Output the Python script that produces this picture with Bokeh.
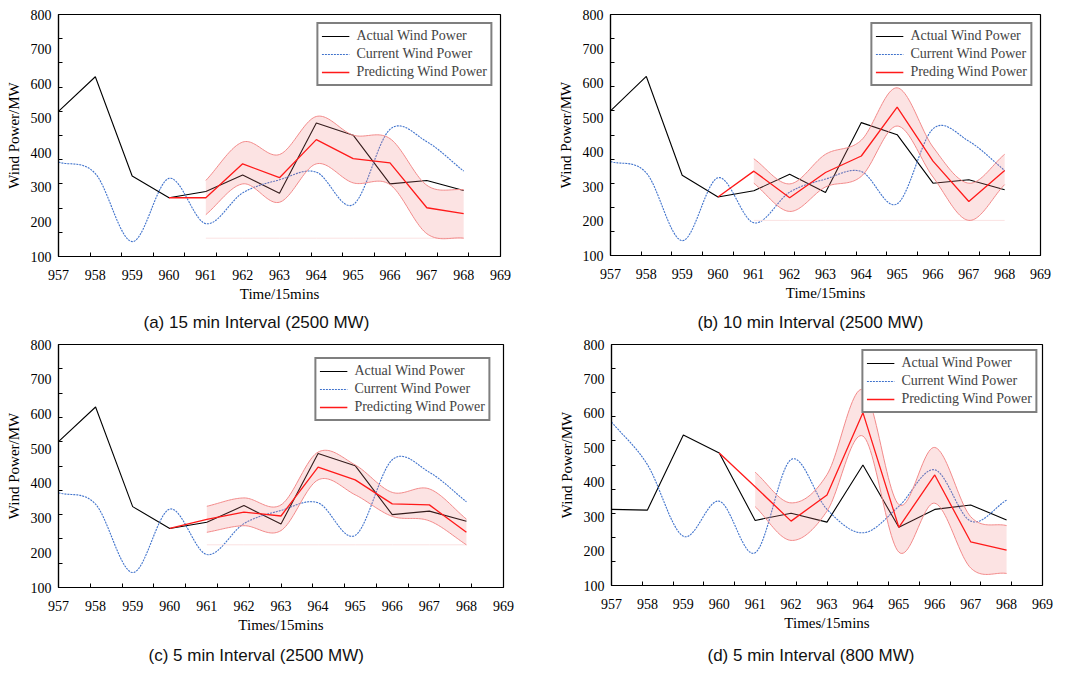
import numpy as np
from bokeh.plotting import figure
from bokeh.layouts import column, row
from bokeh.models import Range1d, FixedTicker, Legend, LegendItem, Title
from bokeh.embed import file_html
from bokeh.resources import INLINE

# ---------------- data ----------------
time = [957, 958, 959, 960, 961, 962, 963, 964, 965, 966, 967, 968]
pred_time = [960, 961, 962, 963, 964, 965, 966, 967, 968]
band_time = [961, 962, 963, 964, 965, 966, 967, 968]

actual_2500 = [520, 620, 333, 270, 288, 336, 283, 486, 451, 310, 320, 291]
current_2500 = [373, 340, 143, 326, 195, 284, 322, 344, 250, 468, 432, 347]

pred_a = [270, 270, 368, 328, 438, 383, 371, 241, 224]
upper_a = [320, 431, 395, 505, 451, 441, 306, 293]
lower_a = [221, 310, 257, 368, 313, 308, 166, 153]

pred_b = [270, 345, 268, 341, 389, 531, 374, 257, 347]
upper_b = [381, 308, 394, 435, 587, 415, 310, 394]
lower_b = [310, 228, 299, 330, 476, 328, 202, 306]

pred_c = [270, 296, 317, 306, 447, 410, 341, 338, 259]
upper_c = [334, 358, 338, 490, 453, 374, 384, 297]
lower_c = [259, 278, 264, 410, 367, 305, 292, 223]

actual_800 = [321, 319, 537, 485, 289, 310, 284, 450, 269, 321, 334, 290]
current_800 = [575, 451, 243, 345, 195, 466, 321, 253, 330, 436, 287, 348]
pred_d = [485, 387, 287, 363, 602, 269, 421, 227, 203]
upper_d = [429, 340, 422, 669, 335, 501, 300, 274]
lower_d = [329, 231, 316, 534, 197, 339, 151, 135]

y_labels = [100, 200, 300, 400, 500, 600, 700, 800]

SERIF = "Liberation Serif"
CAPFONT = "Liberation Sans"
RED = "#ff1a1a"
BLUE = "#3f72cc"


def smooth(xs, ys, n=24):
    xs = np.asarray(xs, float)
    ys = np.asarray(ys, float)
    px = np.concatenate([[2 * xs[0] - xs[1]], xs, [2 * xs[-1] - xs[-2]]])
    py = np.concatenate([[2 * ys[0] - ys[1]], ys, [2 * ys[-1] - ys[-2]]])
    ox, oy = [], []
    t = np.linspace(0, 1, n, endpoint=False)
    for i in range(1, len(px) - 2):
        p0, p1, p2, p3 = py[i - 1], py[i], py[i + 1], py[i + 2]
        y = 0.5 * (2 * p1 + (-p0 + p2) * t + (2 * p0 - 5 * p1 + 4 * p2 - p3) * t ** 2
                   + (-p0 + 3 * p1 - 3 * p2 + p3) * t ** 3)
        x = px[i] + (px[i + 1] - px[i]) * t
        ox.extend(x)
        oy.extend(y)
    ox.append(xs[-1])
    oy.append(ys[-1])
    return np.array(ox), np.array(oy)


def panel(cfg):
    p = figure(frame_width=cfg["FW"], frame_height=cfg["FH"], output_backend="svg",
               toolbar_location=None,
               x_range=Range1d(957, 969), y_range=Range1d(100, 800),
               min_border_left=cfg["L"], min_border_right=cfg["R"],
               min_border_top=cfg["T"], min_border_bottom=cfg["B"])
    p.background_fill_color = "white"
    p.border_fill_color = "white"
    p.outline_line_color = "black"
    p.outline_line_width = 1.2
    p.xgrid.visible = False
    p.ygrid.visible = False

    xminor = [957 + k * 6 / 7 for k in range(1, 14)]
    yminor = [100 + k * 70 for k in range(1, 10)]
    p.xaxis.ticker = FixedTicker(ticks=time + [969], minor_ticks=xminor)
    p.yaxis.ticker = FixedTicker(ticks=y_labels, minor_ticks=yminor)
    for ax in (p.xaxis[0], p.yaxis[0]):
        ax.major_tick_in = 0
        ax.major_tick_out = 0
        ax.minor_tick_in = 4
        ax.minor_tick_out = 0
        ax.axis_line_color = "black"
        ax.axis_line_width = 1.2
        ax.minor_tick_line_color = "black"
        ax.major_label_text_font = SERIF
        ax.major_label_text_font_size = "14px"
        ax.major_label_text_color = "black"
        ax.axis_label_text_font = SERIF
        ax.axis_label_text_font_size = "15px"
        ax.axis_label_text_font_style = "normal"
        ax.axis_label_text_color = "black"
    p.xaxis.major_label_standoff = 13
    p.yaxis.major_label_standoff = 7
    p.xaxis.axis_label_standoff = 3
    p.yaxis.axis_label_standoff = 6
    p.xaxis.axis_label = cfg["xlabel"]
    p.yaxis.axis_label = "Wind Power/MW"

    ra = p.line(time, cfg["actual"], line_color="black", line_width=1.1)
    cx, cy = smooth(time, cfg["current"])
    rc = p.line(cx, cy, line_color=BLUE, line_width=1.1, line_dash="2 1")

    bx, bu = smooth(band_time, cfg["upper"])
    _, bl = smooth(band_time, cfg["lower"])
    if cfg["base"]:
        p.line(band_time, [min(cfg["lower"])] * len(band_time), line_color="#fbe2e2", line_width=1)
    p.varea(x=bx, y1=bl, y2=bu, fill_color="#f08080", fill_alpha=0.22)
    p.line(bx, bu, line_color="#f28a8a", line_width=1)
    p.line(bx, bl, line_color="#f28a8a", line_width=1)
    rp = p.line(pred_time, cfg["pred"], line_color=RED, line_width=1.3)

    leg = Legend(items=[LegendItem(label="Actual Wind Power", renderers=[ra]),
                        LegendItem(label="Current Wind Power", renderers=[rc]),
                        LegendItem(label=cfg["predlabel"], renderers=[rp])],
                 location="top_right", margin=cfg["lm"], padding=3, spacing=0,
                 glyph_width=28, glyph_height=18, label_height=18, label_standoff=7,
                 label_text_font=SERIF, label_text_font_size="14px",
                 border_line_color="black", border_line_width=2,
                 background_fill_color="white", background_fill_alpha=1)
    p.add_layout(leg)

    cap = Title(text=cfg["caption"], align="left", offset=cfg["co"],
                text_font=CAPFONT, text_font_size="17px", text_font_style="normal",
                text_color="#111111", standoff=cfg["cs"])
    p.add_layout(cap, "below")
    return p


pa = panel(dict(FW=442, FH=242, L=58, R=30, T=14, B=82, actual=actual_2500, current=current_2500,
                pred=pred_a, upper=upper_a, lower=lower_a, xlabel="Time/15mins",
                predlabel="Predicting Wind Power", lm=8, co=85, cs=13, base=True,
                caption="(a) 15 min Interval (2500 MW)"))
pb = panel(dict(FW=430, FH=241, L=80, R=33, T=14, B=83, actual=actual_2500, current=current_2500,
                pred=pred_b, upper=upper_b, lower=lower_b, xlabel="Time/15mins",
                predlabel="Preding Wind Power", lm=8, co=87, cs=14, base=True,
                caption="(b) 10 min Interval (2500 MW)"))
pc = panel(dict(FW=445, FH=243, L=58, R=27, T=6, B=86, actual=actual_2500, current=current_2500,
                pred=pred_c, upper=upper_c, lower=lower_c, xlabel="Times/15mins",
                predlabel="Predicting Wind Power", lm=13, co=90, cs=17, base=True,
                caption="(c) 5 min Interval (2500 MW)"))
pd_ = panel(dict(FW=431, FH=241, L=81, R=31, T=5, B=89, actual=actual_800, current=current_800,
                 pred=pred_d, upper=upper_d, lower=lower_d, xlabel="Times/15mins",
                 predlabel="Predicting Wind Power", lm=5, co=96, cs=20, base=False,
                 caption="(d) 5 min Interval (800 MW)"))

layout = column(row(pa, pb, spacing=0), row(pc, pd_, spacing=0), spacing=0)
open("out.html", "w").write(file_html(layout, INLINE))
